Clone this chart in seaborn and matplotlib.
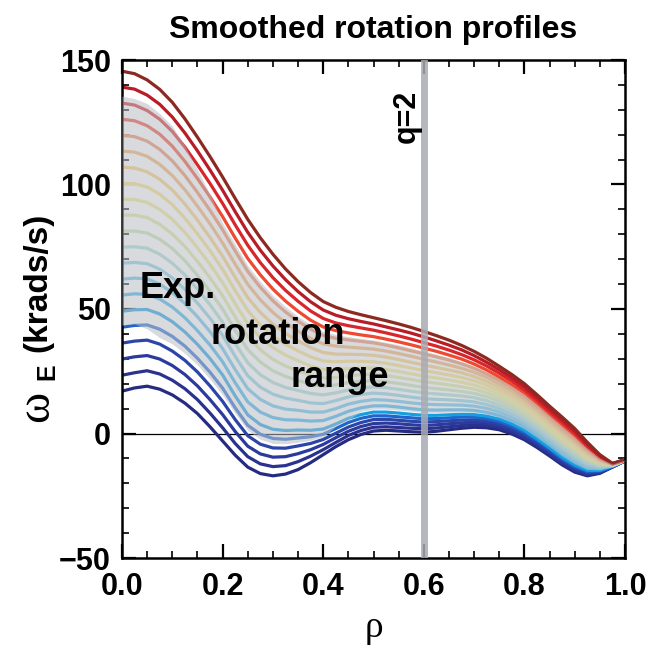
import numpy as np
import pandas as pd
import matplotlib
matplotlib.use('Agg')
import matplotlib.pyplot as plt
from matplotlib.ticker import MultipleLocator, FormatStrFormatter
import seaborn as sns

# normalised radius grid (step 0.025)
rho = [0.0, 0.025, 0.05, 0.075, 0.1, 0.125, 0.15, 0.175, 0.2, 0.225, 0.25,
       0.275, 0.3, 0.325, 0.35, 0.375, 0.4, 0.425, 0.45, 0.475, 0.5, 0.525,
       0.55, 0.575, 0.6, 0.625, 0.65, 0.675, 0.7, 0.725, 0.75, 0.775, 0.8,
       0.825, 0.85, 0.875, 0.9, 0.925, 0.95, 0.975, 1.0]

# smoothed omega_E profiles (krad/s), lowest -> highest
prof_01 = [17.0, 18.3, 19.0, 17.8, 15.5, 12.2, 8.0, 2.7, -3.0, -8.7, -13.5, -16.1, -17.0, -16.3, -14.5, -11.7, -8.5, -5.3, -2.5, -0.4, 1.0, 1.3, 1.0, 0.7, 0.5, 0.9, 1.5, 2.1, 2.5, 2.3, 1.5, -0.2, -2.5, -5.6, -9.0, -12.6, -15.5, -17.0, -16.0, -13.5, -11.0]
prof_02 = [23.4, 24.4, 25.2, 23.9, 21.4, 18.0, 13.6, 8.2, 2.3, -4.0, -9.3, -12.2, -13.3, -12.9, -11.3, -9.1, -6.5, -3.6, -0.8, 1.2, 2.5, 2.7, 2.4, 2.1, 1.9, 2.2, 2.7, 3.2, 3.5, 3.3, 2.4, 0.6, -1.8, -4.9, -8.3, -12.0, -14.9, -16.6, -15.8, -13.4, -11.0]
prof_03 = [29.9, 30.8, 31.3, 29.9, 27.3, 23.7, 19.1, 13.6, 7.6, 0.8, -5.1, -8.2, -9.5, -9.3, -8.1, -6.5, -4.4, -1.7, 0.9, 2.8, 4.0, 4.2, 3.9, 3.5, 3.2, 3.5, 3.9, 4.3, 4.5, 4.2, 3.2, 1.4, -1.0, -4.2, -7.7, -11.3, -14.3, -16.1, -15.5, -13.4, -11.0]
prof_04 = [36.3, 37.1, 37.5, 35.9, 33.1, 29.4, 24.7, 19.1, 12.9, 5.6, -0.9, -4.3, -5.8, -5.9, -5.0, -4.0, -2.4, 0.1, 2.6, 4.4, 5.6, 5.7, 5.3, 4.9, 4.6, 4.8, 5.1, 5.4, 5.5, 5.1, 4.1, 2.2, -0.3, -3.5, -7.0, -10.7, -13.8, -15.7, -15.3, -13.3, -10.9]
prof_05 = [42.7, 43.4, 43.6, 41.9, 39.0, 35.1, 30.2, 24.6, 18.2, 10.3, 3.3, -0.3, -2.0, -2.3, -1.8, -1.3, -0.3, 2.0, 4.4, 6.1, 7.1, 7.1, 6.7, 6.3, 5.9, 6.0, 6.3, 6.6, 6.6, 6.0, 4.9, 3.0, 0.5, -2.7, -6.3, -10.1, -13.2, -15.2, -15.0, -13.2, -10.9]
prof_06 = [49.1, 49.7, 49.8, 48.0, 44.9, 40.8, 35.8, 30.1, 23.5, 15.1, 7.5, 3.6, 1.7, 1.2, 1.4, 1.3, 1.8, 3.8, 6.1, 7.6, 8.6, 8.6, 8.2, 7.7, 7.3, 7.3, 7.5, 7.7, 7.6, 7.0, 5.8, 3.9, 1.3, -2.1, -5.7, -9.5, -12.6, -14.8, -14.8, -13.1, -10.9]
prof_07 = [55.6, 56.1, 55.9, 54.0, 50.8, 46.5, 41.3, 35.5, 28.8, 20.4, 12.7, 8.6, 6.4, 5.5, 5.4, 5.0, 5.2, 6.9, 8.9, 10.3, 11.1, 11.1, 10.6, 10.0, 9.5, 9.4, 9.5, 9.5, 9.3, 8.5, 7.2, 5.2, 2.5, -0.9, -4.6, -8.4, -11.6, -14.0, -14.3, -13.1, -10.9]
prof_08 = [62.0, 62.4, 62.1, 60.0, 56.6, 52.2, 46.9, 40.9, 34.1, 25.7, 18.0, 13.7, 11.1, 9.8, 9.3, 8.6, 8.6, 10.0, 11.8, 12.9, 13.6, 13.4, 12.9, 12.3, 11.8, 11.6, 11.5, 11.4, 11.0, 10.1, 8.6, 6.5, 3.8, 0.4, -3.4, -7.3, -10.7, -13.3, -13.9, -13.0, -10.8]
prof_09 = [68.4, 68.7, 68.2, 66.0, 62.5, 57.9, 52.4, 46.3, 39.4, 31.0, 23.2, 18.6, 15.8, 14.2, 13.3, 12.3, 12.0, 13.2, 14.7, 15.7, 16.2, 15.9, 15.3, 14.6, 14.0, 13.7, 13.5, 13.2, 12.7, 11.6, 10.0, 7.8, 5.0, 1.5, -2.3, -6.2, -9.7, -12.5, -13.5, -12.9, -10.8]
prof_10 = [74.8, 75.0, 74.4, 72.0, 68.4, 63.7, 58.0, 51.7, 44.7, 36.2, 28.4, 23.6, 20.5, 18.5, 17.3, 16.1, 15.5, 16.3, 17.5, 18.3, 18.7, 18.4, 17.7, 17.0, 16.3, 15.9, 15.5, 15.1, 14.4, 13.2, 11.4, 9.1, 6.3, 2.7, -1.2, -5.1, -8.7, -11.8, -13.1, -12.8, -10.8]
prof_11 = [81.3, 81.3, 80.5, 78.0, 74.3, 69.4, 63.5, 57.1, 50.0, 41.5, 33.7, 28.7, 25.2, 22.9, 21.3, 19.8, 18.9, 19.5, 20.4, 21.0, 21.2, 20.8, 20.1, 19.3, 18.5, 18.0, 17.5, 16.9, 16.1, 14.8, 12.9, 10.5, 7.5, 3.8, -0.1, -4.1, -7.7, -11.0, -12.7, -12.8, -10.8]
prof_12 = [87.7, 87.7, 86.7, 84.0, 80.1, 75.1, 69.1, 62.5, 55.3, 46.8, 38.9, 33.6, 29.8, 27.1, 25.2, 23.4, 22.3, 22.5, 23.2, 23.6, 23.8, 23.3, 22.5, 21.7, 20.8, 20.2, 19.5, 18.8, 17.8, 16.3, 14.3, 11.8, 8.8, 5.0, 1.0, -3.0, -6.8, -10.3, -12.3, -12.7, -10.7]
prof_13 = [94.1, 94.0, 92.8, 90.0, 86.0, 80.8, 74.6, 67.9, 60.6, 52.1, 44.1, 38.6, 34.5, 31.5, 29.2, 27.1, 25.7, 25.7, 26.1, 26.3, 26.3, 25.7, 24.9, 24.0, 23.0, 22.3, 21.5, 20.6, 19.5, 17.8, 15.7, 13.1, 10.0, 6.2, 2.1, -2.0, -5.8, -9.5, -11.8, -12.6, -10.7]
prof_14 = [100.5, 100.3, 99.0, 96.1, 91.9, 86.5, 80.2, 73.4, 65.9, 57.4, 49.4, 43.6, 39.2, 35.8, 33.2, 30.8, 29.1, 28.8, 29.0, 29.0, 28.8, 28.2, 27.3, 26.3, 25.3, 24.4, 23.5, 22.5, 21.2, 19.4, 17.1, 14.5, 11.3, 7.4, 3.2, -0.9, -4.8, -8.8, -11.4, -12.5, -10.7]
prof_15 = [107.0, 106.6, 105.1, 102.1, 97.8, 92.2, 85.7, 78.7, 71.2, 62.7, 54.6, 48.6, 43.9, 40.2, 37.2, 34.5, 32.5, 31.9, 31.8, 31.7, 31.4, 30.7, 29.7, 28.6, 27.5, 26.5, 25.5, 24.4, 22.9, 20.9, 18.5, 15.7, 12.5, 8.5, 4.3, 0.2, -3.8, -8.0, -11.0, -12.5, -10.7]
prof_16 = [113.4, 113.0, 111.3, 108.1, 103.6, 97.9, 91.3, 84.2, 76.5, 68.0, 59.9, 53.7, 48.6, 44.5, 41.1, 38.2, 36.0, 35.1, 34.7, 34.3, 33.9, 33.1, 32.1, 31.0, 29.8, 28.7, 27.5, 26.2, 24.6, 22.5, 19.9, 17.1, 13.8, 9.7, 5.4, 1.2, -2.9, -7.3, -10.6, -12.4, -10.6]
prof_17 = [119.8, 119.2, 117.4, 114.1, 109.5, 103.6, 96.8, 89.6, 81.8, 73.3, 65.1, 58.7, 53.3, 48.8, 45.1, 41.9, 39.4, 38.2, 37.6, 37.0, 36.4, 35.5, 34.4, 33.2, 32.0, 30.8, 29.5, 28.0, 26.2, 23.9, 21.3, 18.4, 15.0, 10.9, 6.6, 2.3, -1.9, -6.5, -10.2, -12.3, -10.6]
prof_18 = [126.2, 125.6, 123.6, 120.2, 115.4, 109.3, 102.4, 95.0, 87.1, 78.5, 70.3, 63.7, 58.0, 53.2, 49.1, 45.5, 42.8, 41.3, 40.4, 39.6, 38.9, 37.9, 36.8, 35.6, 34.3, 33.0, 31.5, 29.9, 27.9, 25.5, 22.7, 19.7, 16.3, 12.1, 7.7, 3.4, -0.9, -5.8, -9.8, -12.2, -10.6]
prof_19 = [132.7, 131.9, 129.7, 126.2, 121.3, 115.0, 107.9, 100.4, 92.4, 83.8, 75.6, 68.6, 62.6, 57.5, 53.1, 49.2, 46.2, 44.4, 43.3, 42.4, 41.5, 40.4, 39.2, 37.9, 36.5, 35.1, 33.5, 31.7, 29.6, 27.1, 24.2, 21.1, 17.5, 13.3, 8.8, 4.5, 0.1, -5.0, -9.3, -12.2, -10.6]
prof_20 = [139.1, 138.3, 135.9, 132.2, 127.1, 120.7, 113.5, 105.8, 97.7, 89.1, 80.8, 73.6, 67.3, 61.8, 57.0, 52.9, 49.6, 47.5, 46.1, 45.0, 44.0, 42.8, 41.6, 40.3, 38.8, 37.2, 35.5, 33.6, 31.3, 28.6, 25.6, 22.4, 18.8, 14.5, 9.9, 5.5, 1.0, -4.3, -8.9, -12.1, -10.5]
prof_21 = [145.5, 144.5, 142.0, 138.2, 133.0, 126.4, 119.0, 111.2, 103.0, 94.4, 86.0, 78.6, 72.0, 66.1, 61.0, 56.6, 53.0, 50.7, 49.0, 47.7, 46.5, 45.3, 44.0, 42.6, 41.0, 39.3, 37.5, 35.4, 33.0, 30.2, 27.0, 23.7, 20.0, 15.6, 11.0, 6.6, 2.0, -3.5, -8.5, -12.0, -10.5]

profiles = [prof_01, prof_02, prof_03, prof_04, prof_05, prof_06, prof_07,
            prof_08, prof_09, prof_10, prof_11, prof_12, prof_13, prof_14,
            prof_15, prof_16, prof_17, prof_18, prof_19, prof_20, prof_21]

# experimental rotation range (shaded band)
exp_low = [43.5, 44.0, 42.0, 38.5, 36.0, 32.2, 27.5, 21.8, 15.5, 8.0, 1.2, -2.3, -4.0, -4.1, -3.5, -2.7, -1.4, 2.9, 5.5, 8.9, 9.8, 9.8, 9.4, 8.9, 8.4, 8.4, 8.5, 8.6, 8.4, 7.7, 6.5, 4.5, 1.9, -1.5, -5.1, -8.9, -12.1, -14.4, -14.5, -13.1, -10.9]
exp_high = [135.5, 134.5, 132.5, 128.5, 123.5, 115.5, 106.0, 96.0, 84.5, 76.0, 67.5, 61.0, 55.5, 51.0, 47.0, 43.8, 41.0, 39.8, 38.9, 38.2, 37.6, 36.6, 35.6, 34.4, 33.1, 31.8, 30.5, 28.8, 27.0, 24.6, 22.0, 19.0, 15.7, 11.6, 7.2, 2.9, -1.4, -6.1, -10.0, -12.3, -10.6]

q2_rho = 0.6

line_colors = ['#262b82', '#2a3290', '#2b3a9c', '#2b45a8', '#1f66cc', '#169fe0',
               '#3ab4ec', '#62c2ea', '#86cfe2', '#a6d9d0', '#c2e2b0', '#dce898',
               '#f0e888', '#f8de7c', '#f8ca72', '#f4b068', '#f08a5a', '#ee4a32',
               '#d8262a', '#b81c26', '#8c2a22']

rows = []
for i, prof in enumerate(profiles):
    for r, w in zip(rho, prof):
        rows.append({'rho': r, 'omega': w, 'profile': i})
df = pd.DataFrame(rows)

sns.set_style('ticks')
plt.rcParams['font.family'] = ['Liberation Sans', 'DejaVu Sans']
plt.rcParams['font.weight'] = 'bold'
plt.rcParams['text.color'] = 'black'
plt.rcParams['axes.labelcolor'] = 'black'
plt.rcParams['xtick.color'] = 'black'
plt.rcParams['ytick.color'] = 'black'

W, H = 651, 656
fig = plt.figure(figsize=(W / 100, H / 100), dpi=100)
ax = fig.add_axes([122 / W, 1 - 558 / H, 503 / W, 498 / H])

ax.axhline(0, color='black', lw=0.9, zorder=1)
sns.lineplot(data=df, x='rho', y='omega', hue='profile', palette=line_colors,
             legend=False, lw=2.3, ax=ax, zorder=2)
ax.fill_between(rho, exp_low, exp_high, color='#b9bcc4', alpha=0.55, lw=0, zorder=3)
ax.axvline(q2_rho, color='#a9abb3', lw=5, alpha=0.85, zorder=4)

ax.text(0.036, 54.5, 'Exp.', fontsize=26, fontweight='bold', zorder=5)
ax.text(0.175, 36, 'rotation', fontsize=26, fontweight='bold', zorder=5)
ax.text(0.334, 18.5, 'range', fontsize=26, fontweight='bold', zorder=5)
ax.text(0.567, 127.5, 'q=2', fontsize=22, fontweight='bold', rotation=90,
        ha='center', va='center', zorder=5)

ax.set_xlim(0, 1)
ax.set_ylim(-50, 150)
ax.xaxis.set_major_locator(MultipleLocator(0.2))
ax.xaxis.set_minor_locator(MultipleLocator(0.05))
ax.yaxis.set_major_locator(MultipleLocator(50))
ax.yaxis.set_minor_locator(MultipleLocator(10))
ax.xaxis.set_major_formatter(FormatStrFormatter('%.1f'))
ax.tick_params(which='both', direction='in', top=True, right=True, labelsize=22)
ax.tick_params(which='major', length=10, width=1.6)
ax.tick_params(which='minor', length=5, width=1.2)
ax.tick_params(axis='x', pad=10)
ax.tick_params(axis='y', pad=8)
for sp in ax.spines.values():
    sp.set_linewidth(1.8)
    sp.set_color('black')

ax.set_xlabel('ρ', family='Liberation Serif', fontweight='normal', fontsize=27, labelpad=6)
ax.set_ylabel('')
ax.set_title('Smoothed rotation profiles', fontsize=23, fontweight='bold', pad=16)

# y label built from pieces: large serif omega, bold subscript E, bold units
fig.text(37 / W, 1 - 406 / H, 'ω', family='Liberation Serif', fontweight='normal',
         fontsize=34, rotation=90, ha='center', va='center')
fig.text(47 / W, 1 - 372 / H, 'E', fontsize=18, fontweight='bold',
         rotation=90, ha='center', va='center')
fig.text(38 / W, 1 - 282 / H, '(krads/s)', fontsize=24, fontweight='bold',
         rotation=90, ha='center', va='center')

fig.savefig('out.png', dpi=100, facecolor='white')
